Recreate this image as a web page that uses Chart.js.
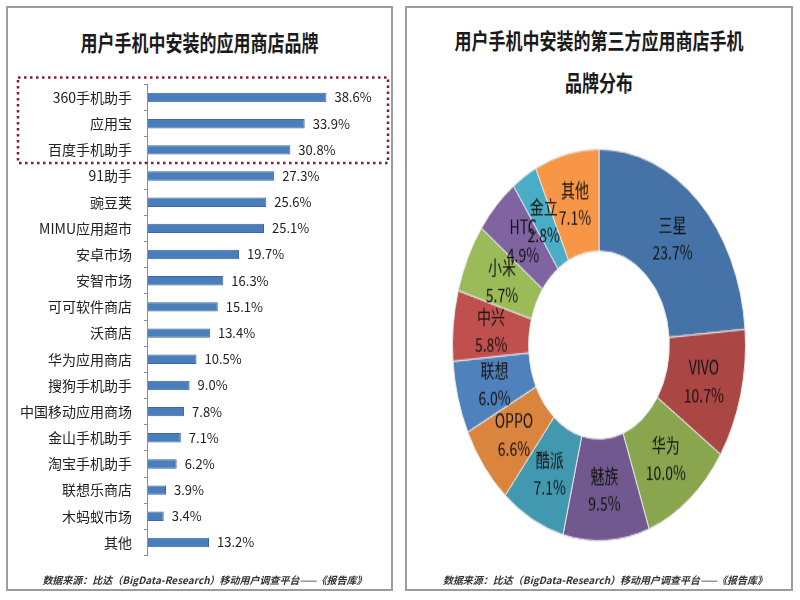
<!DOCTYPE html>
<html>
<head>
<meta charset="utf-8">
<script src="https://cdn.jsdelivr.net/npm/chart.js@4.4.1/dist/chart.umd.min.js"></script>
<style>
  body { margin: 0; width: 800px; height: 600px; position: relative; overflow: hidden; background: #fff;
         font-family: "Noto Sans CJK SC", sans-serif; color: #222; }
  .panel { position: absolute; top: 6px; height: 585px; box-sizing: border-box; border: 2px solid #9c9c9c; background: #fff; }
  .title { position: absolute; text-align: center; font-size: 17px; font-weight: bold; line-height: 22px;
           color: #1a1a1a; transform: scaleY(1.3); white-space: nowrap; }
  .source { position: absolute; top: 572px; text-align: center; font-size: 10px; font-weight: bold; font-style: italic;
            color: #333; white-space: nowrap; }
  #storeChart { position: absolute; left: 8px; top: 64px; width: 382px; height: 512px; }
  .ring { position: absolute; left: 452px; top: 198px; width: 294px; height: 294px; transform: scaleY(1.336); }
  #brandChart { width: 294px; height: 294px; }
</style>
</head>
<body>
<div class="panel" style="left:6px; width:387px;"></div>
<div class="panel" style="left:405px; width:388px;"></div>

<div class="title" style="left:6px; width:387px; top:31px;">用户手机中安装的应用商店品牌</div>
<div class="title" style="left:405px; width:388px; top:29px;">用户手机中安装的第三方应用商店手机</div>
<div class="title" style="left:405px; width:388px; top:71px;">品牌分布</div>

<canvas id="storeChart" width="382" height="512"></canvas>
<div class="ring"><canvas id="brandChart" width="294" height="294"></canvas></div>

<div class="source" style="left:6px; width:397px;">数据来源：比达（BigData-Research）移动用户调查平台——《报告库》</div>
<div class="source" style="left:405px; width:400px;">数据来源：比达（BigData-Research）移动用户调查平台——《报告库》</div>

<script>
// left: app store brands installed
const storeNames = ['360手机助手', '应用宝', '百度手机助手', '91助手', '豌豆荚', 'MIMU应用超市', '安卓市场', '安智市场',
  '可可软件商店', '沃商店', '华为应用商店', '搜狗手机助手', '中国移动应用商场', '金山手机助手', '淘宝手机助手',
  '联想乐商店', '木蚂蚁市场', '其他'];
const storeShares = [38.6, 33.9, 30.8, 27.3, 25.6, 25.1, 19.7, 16.3, 15.1, 13.4, 10.5, 9.0, 7.8, 7.1, 6.2, 3.9, 3.4, 13.2];
const topCount = 3;

// right: phone brands of third-party store users
const brandNames = ['三星', 'VIVO', '华为', '魅族', '酷派', 'OPPO', '联想', '中兴', '小米', 'HTC', '金立', '其他'];
const brandShares = [23.7, 10.7, 10.0, 9.5, 7.1, 6.6, 6.0, 5.8, 5.7, 4.9, 2.8, 7.1];
const brandColors = ['#4572A7', '#AA4643', '#89A54E', '#71588F', '#4198AF', '#DB843D',
  '#4F81BD', '#C0504D', '#9BBB59', '#8064A2', '#4BACC6', '#F79646'];

const cjk = '"Noto Sans CJK SC", sans-serif';

// value text after each bar
const barValues = {
  id: 'barValues',
  afterDatasetsDraw(chart) {
    const { ctx } = chart;
    ctx.save();
    ctx.font = '13px ' + cjk;
    ctx.fillStyle = '#222';
    ctx.textBaseline = 'middle';
    chart.getDatasetMeta(0).data.forEach((bar, i) => {
      ctx.fillText(storeShares[i].toFixed(1) + '%', bar.x + 8, bar.y);
    });
    ctx.restore();
  }
};

// dotted red frame around the top three
const topBox = {
  id: 'topBox',
  afterDraw(chart) {
    const { ctx, scales: { y } } = chart;
    const half = (y.getPixelForValue(1) - y.getPixelForValue(0)) / 2;
    const top = y.getPixelForValue(0) - half - 7;
    const bottom = y.getPixelForValue(topCount - 1) + half;
    ctx.save();
    ctx.strokeStyle = '#7a1f33';
    ctx.lineWidth = 2.5;
    ctx.setLineDash([2.5, 3.5]);
    ctx.strokeRect(10, top, chart.width - 12, bottom - top);
    ctx.restore();
  }
};

new Chart(document.getElementById('storeChart'), {
  type: 'bar',
  data: {
    labels: storeNames,
    datasets: [{
      data: storeShares,
      backgroundColor: '#4A7EBB',
      borderColor: '#3A67A0',
      borderWidth: 1,
      barPercentage: 0.36,
      categoryPercentage: 1
    }]
  },
  options: {
    indexAxis: 'y',
    responsive: false,
    animation: false,
    layout: { padding: { left: 0, right: 34, top: 16, bottom: 6 } },
    scales: {
      x: { display: false, min: 0, max: 45 },
      y: {
        grid: { drawOnChartArea: false, tickLength: 4, color: '#8c8c8c' },
        border: { color: '#8c8c8c' },
        ticks: { color: '#222', font: { family: cjk, size: 14 }, padding: 12, autoSkip: false }
      }
    },
    plugins: { legend: { display: false }, tooltip: { enabled: false } }
  },
  plugins: [barValues, topBox]
});

// name + share inside each slice
const sliceLabels = {
  id: 'sliceLabels',
  afterDatasetsDraw(chart) {
    const { ctx } = chart;
    ctx.save();
    ctx.font = '14px ' + cjk;
    ctx.fillStyle = '#141414';
    ctx.textAlign = 'center';
    ctx.textBaseline = 'middle';
    chart.getDatasetMeta(0).data.forEach((arc, i) => {
      const p = arc.tooltipPosition();
      ctx.fillText(brandNames[i], p.x, p.y - 10.5);
      ctx.fillText(brandShares[i].toFixed(1) + '%', p.x, p.y + 10.5);
    });
    ctx.restore();
  }
};

new Chart(document.getElementById('brandChart'), {
  type: 'doughnut',
  data: {
    labels: brandNames,
    datasets: [{
      data: brandShares,
      backgroundColor: brandColors,
      borderColor: '#e6e6e6',
      borderWidth: 1
    }]
  },
  options: {
    responsive: false,
    animation: false,
    cutout: '48%',
    plugins: { legend: { display: false }, tooltip: { enabled: false } }
  },
  plugins: [sliceLabels]
});
</script>
</body>
</html>
